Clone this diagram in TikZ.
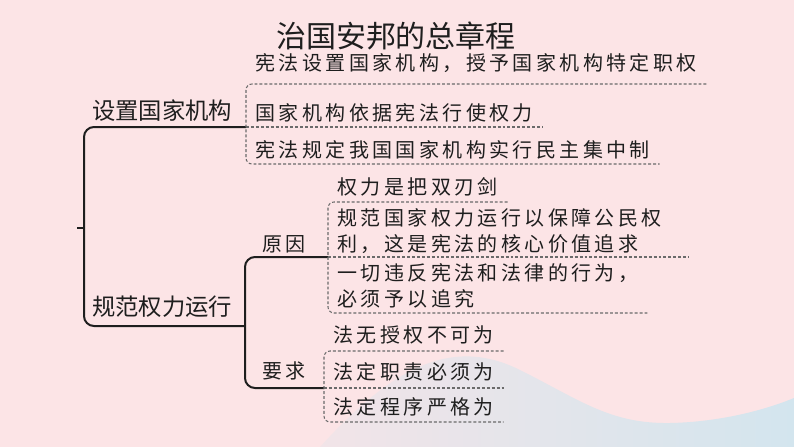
\documentclass[tikz,border=0pt]{standalone}
\usepackage{fontspec}
\newfontfamily\cjk{Noto Sans CJK SC}
\newfontfamily\cjkspaced[LetterSpace=17]{Noto Sans CJK SC}
\usetikzlibrary{positioning}
\definecolor{Bg}{HTML}{FCE4E6}
\definecolor{Wave}{HTML}{D3E5EE}
\definecolor{Ink}{HTML}{1E1E1E}
\definecolor{Dash}{HTML}{6A6A6A}
\tikzset{headline/.style={font=\cjk\fontsize{22.5}{26}\selectfont,text=Ink},topic/.style={anchor=south west,font=\cjk\fontsize{17.5}{20}\selectfont,text=Ink,inner xsep=1.5pt,inner ysep=4pt},entry/.style={anchor=south west,font=\cjkspaced\fontsize{15}{19.5}\selectfont,text=Ink,align=left,inner xsep=7pt,inner ysep=3.5pt},subtopic/.style={entry,inner xsep=1.5pt},tree/.style={draw=Ink,line width=1.5pt,rounded corners=7.5pt},dashline/.style={draw=Dash,line width=.8pt,dash pattern=on 2.2pt off 1.5pt,rounded corners=4.5pt}}
\begin{document}
\begin{tikzpicture}[x=.75pt,y=-.75pt]
      \fill[Bg](0,0)rectangle(794,447);
      \shade[left color=Wave!25!Bg,middle color=Wave!85!Bg,right color=Wave](320,447)..controls(390,370)and(450,335)..(520,370)..controls(580,400)and(610,424)..(670,423)..controls(720,422)and(765,410)..(794,398)--(794,447)--cycle;
      \node[headline](title)at(396,36){治国安邦的总章程};
      \coordinate(root)at(77,228);\coordinate(spine)at(84,228);\coordinate(fork)at(245,326);
      \node[topic](setup)at(90,127){设置国家机构};
      \node[topic,inner ysep=6pt](regulate)at(90,326){规范权力运行};
      \node[entry,inner ysep=8.5pt](a1)at(246,84){宪法设置国家机构，授予国家机构特定职权};
      \node[entry](a2)at(246,127){国家机构依据宪法行使权力};
      \node[entry](a3)at(246,164){宪法规定我国国家机构实行民主集中制};
      \node[subtopic,inner ysep=2.5pt](why)at(260,257){原因};
      \node[subtopic,inner ysep=6pt](how)at(260,388){要求};
      \node[entry,inner ysep=4pt](b1)at(328,202){权力是把双刃剑};
      \node[entry,text width=256pt,inner ysep=2.5pt](b2)at(328,257){规范国家权力运行以保障公民权\\利，这是宪法的核心价值追求};
      \node[entry](b3)at(328,313){一切违反宪法和法律的行为，\\必须予以追究};
      \node[entry,inner ysep=5pt](c1)at(324,351){法无授权不可为};
      \node[entry,inner ysep=5pt](c2)at(324,388){法定职责必须为};
      \node[entry,inner ysep=4.5pt](c3)at(324,422){法定程序严格为};
      \draw[tree](root)--(spine);
      \draw[tree](a2.south west)-|(spine)|-(fork);
      \draw[tree](b2.south west)-|(fork)|-(c2.south west);
      \draw[dashline](a1.south east)--(a1.south west)--(a3.south west)--(a3.south east);\draw[dashline](a2.south west)--(a2.south east);
      \draw[dashline](b1.south east)--(b1.south west)--(b3.south west)--(b3.south east);\draw[dashline](b2.south west)--(b2.south east);
      \draw[dashline](c1.south east)--(c1.south west)--(c3.south west)--(c3.south east);\draw[dashline](c2.south west)--(c2.south east);
    \end{tikzpicture}
\end{document}
